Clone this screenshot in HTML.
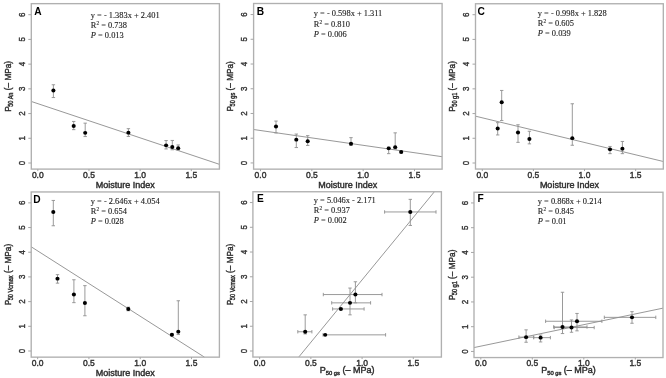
<!DOCTYPE html><html><head><meta charset="utf-8"><style>html,body{margin:0;padding:0;background:#fff;width:666px;height:378px;overflow:hidden}svg{display:block;will-change:transform}.s{font-family:"Liberation Sans",sans-serif}.t{stroke:#333;stroke-width:0.42px}.e{stroke:#222;stroke-width:0.12px}.r{font-family:"Liberation Serif",serif}</style></head><body>
<svg width="666" height="378" viewBox="0 0 666 378">
<rect width="666" height="378" fill="#fff"/>
<g transform="translate(0,0.25)"><line x1="31.3" y1="101.23" x2="219.4" y2="164.07" stroke="#8c8c8c" stroke-width="0.9"/><path d="M53.4 84.5V97.3M51.7 84.5H55.1M51.7 97.3H55.1M73.7 121.2V129.4M72 121.2H75.4M72 129.4H75.4M85.2 122.9V136.3M83.5 122.9H86.9M83.5 136.3H86.9M128.4 128.4V136.2M126.7 128.4H130.1M126.7 136.2H130.1M166.1 140.3V148.7M164.4 140.3H167.8M164.4 148.7H167.8M172.3 140.2V149.5M170.6 140.2H174M170.6 149.5H174M178.2 144.7V149.9M176.5 144.7H179.9M176.5 149.9H179.9" stroke="#8e8e8e" stroke-width="0.9" fill="none"/><ellipse cx="53.4" cy="90.2" rx="2.05" ry="1.95" fill="#000"/><ellipse cx="73.7" cy="125.7" rx="2.05" ry="1.95" fill="#000"/><ellipse cx="85.2" cy="132.6" rx="2.05" ry="1.95" fill="#000"/><ellipse cx="128.4" cy="132.4" rx="2.05" ry="1.95" fill="#000"/><ellipse cx="166.1" cy="145.1" rx="2.05" ry="1.95" fill="#000"/><ellipse cx="172.3" cy="146.8" rx="2.05" ry="1.95" fill="#000"/><ellipse cx="178.2" cy="147.9" rx="2.05" ry="1.95" fill="#000"/><rect x="31.3" y="3.4" width="188.1" height="165.45" fill="none" stroke="#b0b0b0" stroke-width="1.35"/><path d="M28.3 162.75H31.3M28.3 138.03H31.3M28.3 113.32H31.3M28.3 88.6H31.3M28.3 63.88H31.3M28.3 39.17H31.3M28.3 14.45H31.3M37.8 168.85V170.85M88.97 168.85V170.85M140.13 168.85V170.85M191.3 168.85V170.85" stroke="#a6a6a6" stroke-width="1" fill="none"/><text class="s t" font-size="9.9" fill="#333" text-anchor="middle" transform="translate(24.9,162.75) rotate(-90) scale(0.8,1)">0</text><text class="s t" font-size="9.9" fill="#333" text-anchor="middle" transform="translate(24.9,138.03) rotate(-90) scale(0.8,1)">1</text><text class="s t" font-size="9.9" fill="#333" text-anchor="middle" transform="translate(24.9,113.32) rotate(-90) scale(0.8,1)">2</text><text class="s t" font-size="9.9" fill="#333" text-anchor="middle" transform="translate(24.9,88.6) rotate(-90) scale(0.8,1)">3</text><text class="s t" font-size="9.9" fill="#333" text-anchor="middle" transform="translate(24.9,63.88) rotate(-90) scale(0.8,1)">4</text><text class="s t" font-size="9.9" fill="#333" text-anchor="middle" transform="translate(24.9,39.17) rotate(-90) scale(0.8,1)">5</text><text class="s t" font-size="9.9" fill="#333" text-anchor="middle" transform="translate(24.9,14.45) rotate(-90) scale(0.8,1)">6</text><text class="s t" font-size="8.5" fill="#333" text-anchor="middle" x="37.8" y="177.7">0.0</text><text class="s t" font-size="8.5" fill="#333" text-anchor="middle" x="88.97" y="177.7">0.5</text><text class="s t" font-size="8.5" fill="#333" text-anchor="middle" x="140.13" y="177.7">1.0</text><text class="s t" font-size="8.5" fill="#333" text-anchor="middle" x="191.3" y="177.7">1.5</text><text class="s t" font-size="9.0" fill="#222" text-anchor="middle" x="125.35" y="188.2">Moisture Index</text><text class="s t" font-size="9.7" fill="#222" text-anchor="middle" transform="translate(11.1,86.12) rotate(-90) scale(0.85,1)">P<tspan font-size="6.6" dx="-0.6" dy="1.7">50 An</tspan><tspan dy="-1.7"> (– MPa)</tspan></text><text class="s" font-size="10.2" font-weight="bold" fill="#000" x="34.3" y="14.8">A</text><text class="r e" font-size="8.4" fill="#222" x="90.8" y="17.95">y <tspan fill="#444" stroke="none">=</tspan> - 1.383x + 2.401</text><text class="r e" font-size="8.4" fill="#222" x="90.8" y="27.75">R<tspan font-size="5.4" dy="-3">2</tspan><tspan dy="3"> <tspan fill="#444" stroke="none">=</tspan> 0.738</tspan></text><text class="r e" font-size="8.4" fill="#222" x="90.8" y="37.55"><tspan font-style="italic">P</tspan> <tspan fill="#444" stroke="none">=</tspan> 0.013</text></g>
<g transform="translate(222,0.25)"><line x1="31.6" y1="129.28" x2="220.1" y2="156.44" stroke="#8c8c8c" stroke-width="0.9"/><path d="M54 120.8V132.7M52.3 120.8H55.7M52.3 132.7H55.7M74.3 133.8V147.3M72.6 133.8H76M72.6 147.3H76M85.7 135.4V145.2M84 135.4H87.4M84 145.2H87.4M129 137.4V145M127.3 137.4H130.7M127.3 145H130.7M166.7 146.8V153.4M165 146.8H168.4M165 153.4H168.4M173.2 132.6V149M171.5 132.6H174.9M171.5 149H174.9M179.2 151V152.6M177.5 151H180.9M177.5 152.6H180.9" stroke="#8e8e8e" stroke-width="0.9" fill="none"/><ellipse cx="54" cy="126.3" rx="2.05" ry="1.95" fill="#000"/><ellipse cx="74.3" cy="139.4" rx="2.05" ry="1.95" fill="#000"/><ellipse cx="85.7" cy="141" rx="2.05" ry="1.95" fill="#000"/><ellipse cx="129" cy="143.5" rx="2.05" ry="1.95" fill="#000"/><ellipse cx="166.7" cy="148.1" rx="2.05" ry="1.95" fill="#000"/><ellipse cx="173.2" cy="146.9" rx="2.05" ry="1.95" fill="#000"/><ellipse cx="179.2" cy="151.8" rx="2.05" ry="1.95" fill="#000"/><rect x="31.6" y="3.25" width="188.5" height="165.65" fill="none" stroke="#b0b0b0" stroke-width="1.35"/><path d="M28.6 162.7H31.6M28.6 137.97H31.6M28.6 113.23H31.6M28.6 88.5H31.6M28.6 63.77H31.6M28.6 39.03H31.6M28.6 14.3H31.6M38.5 168.9V170.9M89.83 168.9V170.9M141.17 168.9V170.9M192.5 168.9V170.9" stroke="#a6a6a6" stroke-width="1" fill="none"/><text class="s t" font-size="9.9" fill="#333" text-anchor="middle" transform="translate(25.2,162.7) rotate(-90) scale(0.8,1)">0</text><text class="s t" font-size="9.9" fill="#333" text-anchor="middle" transform="translate(25.2,137.97) rotate(-90) scale(0.8,1)">1</text><text class="s t" font-size="9.9" fill="#333" text-anchor="middle" transform="translate(25.2,113.23) rotate(-90) scale(0.8,1)">2</text><text class="s t" font-size="9.9" fill="#333" text-anchor="middle" transform="translate(25.2,88.5) rotate(-90) scale(0.8,1)">3</text><text class="s t" font-size="9.9" fill="#333" text-anchor="middle" transform="translate(25.2,63.77) rotate(-90) scale(0.8,1)">4</text><text class="s t" font-size="9.9" fill="#333" text-anchor="middle" transform="translate(25.2,39.03) rotate(-90) scale(0.8,1)">5</text><text class="s t" font-size="9.9" fill="#333" text-anchor="middle" transform="translate(25.2,14.3) rotate(-90) scale(0.8,1)">6</text><text class="s t" font-size="8.5" fill="#333" text-anchor="middle" x="38.5" y="177.7">0.0</text><text class="s t" font-size="8.5" fill="#333" text-anchor="middle" x="89.83" y="177.7">0.5</text><text class="s t" font-size="8.5" fill="#333" text-anchor="middle" x="141.17" y="177.7">1.0</text><text class="s t" font-size="8.5" fill="#333" text-anchor="middle" x="192.5" y="177.7">1.5</text><text class="s t" font-size="9.0" fill="#222" text-anchor="middle" x="125.85" y="188.2">Moisture Index</text><text class="s t" font-size="9.7" fill="#222" text-anchor="middle" transform="translate(11.1,86.08) rotate(-90) scale(0.85,1)">P<tspan font-size="6.6" dx="-0.6" dy="1.7">50 gs</tspan><tspan dy="-1.7"> (– MPa)</tspan></text><text class="s" font-size="10.2" font-weight="bold" fill="#000" x="34.65" y="14.6">B</text><text class="r e" font-size="8.4" fill="#222" x="91.8" y="15.7">y <tspan fill="#444" stroke="none">=</tspan> - 0.598x + 1.311</text><text class="r e" font-size="8.4" fill="#222" x="91.8" y="26.3">R<tspan font-size="5.4" dy="-3">2</tspan><tspan dy="3"> <tspan fill="#444" stroke="none">=</tspan> 0.810</tspan></text><text class="r e" font-size="8.4" fill="#222" x="91.8" y="36.3"><tspan font-style="italic">P</tspan> <tspan fill="#444" stroke="none">=</tspan> 0.006</text></g>
<g transform="translate(444,0.25)"><line x1="31.5" y1="115.93" x2="219.3" y2="161.24" stroke="#8c8c8c" stroke-width="0.9"/><path d="M53.7 122.4V134.7M52 122.4H55.4M52 134.7H55.4M57.7 90.2V120.3M56 90.2H59.4M56 120.3H59.4M74 124.5V142.1M72.3 124.5H75.7M72.3 142.1H75.7M85.4 131V143.6M83.7 131H87.1M83.7 143.6H87.1M128.3 103.5V145M126.6 103.5H130M126.6 145H130M166 146.2V153.4M164.3 146.2H167.7M164.3 153.4H167.7M178.4 141.2V153.4M176.7 141.2H180.1M176.7 153.4H180.1" stroke="#8e8e8e" stroke-width="0.9" fill="none"/><ellipse cx="53.7" cy="128.3" rx="2.05" ry="1.95" fill="#000"/><ellipse cx="57.7" cy="102" rx="2.05" ry="1.95" fill="#000"/><ellipse cx="74" cy="132.3" rx="2.05" ry="1.95" fill="#000"/><ellipse cx="85.4" cy="138.7" rx="2.05" ry="1.95" fill="#000"/><ellipse cx="128.3" cy="137.9" rx="2.05" ry="1.95" fill="#000"/><ellipse cx="166" cy="149.1" rx="2.05" ry="1.95" fill="#000"/><ellipse cx="178.4" cy="148.4" rx="2.05" ry="1.95" fill="#000"/><rect x="31.5" y="3.5" width="187.8" height="165.3" fill="none" stroke="#b0b0b0" stroke-width="1.35"/><path d="M28.5 162.75H31.5M28.5 138.03H31.5M28.5 113.32H31.5M28.5 88.6H31.5M28.5 63.88H31.5M28.5 39.17H31.5M28.5 14.45H31.5M38.3 168.8V170.8M89.42 168.8V170.8M140.53 168.8V170.8M191.65 168.8V170.8" stroke="#a6a6a6" stroke-width="1" fill="none"/><text class="s t" font-size="9.9" fill="#333" text-anchor="middle" transform="translate(25.1,162.75) rotate(-90) scale(0.8,1)">0</text><text class="s t" font-size="9.9" fill="#333" text-anchor="middle" transform="translate(25.1,138.03) rotate(-90) scale(0.8,1)">1</text><text class="s t" font-size="9.9" fill="#333" text-anchor="middle" transform="translate(25.1,113.32) rotate(-90) scale(0.8,1)">2</text><text class="s t" font-size="9.9" fill="#333" text-anchor="middle" transform="translate(25.1,88.6) rotate(-90) scale(0.8,1)">3</text><text class="s t" font-size="9.9" fill="#333" text-anchor="middle" transform="translate(25.1,63.88) rotate(-90) scale(0.8,1)">4</text><text class="s t" font-size="9.9" fill="#333" text-anchor="middle" transform="translate(25.1,39.17) rotate(-90) scale(0.8,1)">5</text><text class="s t" font-size="9.9" fill="#333" text-anchor="middle" transform="translate(25.1,14.45) rotate(-90) scale(0.8,1)">6</text><text class="s t" font-size="8.5" fill="#333" text-anchor="middle" x="38.3" y="177.7">0.0</text><text class="s t" font-size="8.5" fill="#333" text-anchor="middle" x="89.42" y="177.7">0.5</text><text class="s t" font-size="8.5" fill="#333" text-anchor="middle" x="140.53" y="177.7">1.0</text><text class="s t" font-size="8.5" fill="#333" text-anchor="middle" x="191.65" y="177.7">1.5</text><text class="s t" font-size="9.0" fill="#222" text-anchor="middle" x="125.4" y="188.2">Moisture Index</text><text class="s t" font-size="9.7" fill="#222" text-anchor="middle" transform="translate(11.1,86.15) rotate(-90) scale(0.85,1)">P<tspan font-size="6.6" dx="-0.6" dy="1.7">50 g1</tspan><tspan dy="-1.7"> (– MPa)</tspan></text><text class="s" font-size="10.2" font-weight="bold" fill="#000" x="33.4" y="14.9">C</text><text class="r e" font-size="8.4" fill="#222" x="93.8" y="16.05">y <tspan fill="#444" stroke="none">=</tspan> - 0.998x + 1.828</text><text class="r e" font-size="8.4" fill="#222" x="93.8" y="25.45">R<tspan font-size="5.4" dy="-3">2</tspan><tspan dy="3"> <tspan fill="#444" stroke="none">=</tspan> 0.605</tspan></text><text class="r e" font-size="8.4" fill="#222" x="93.8" y="35.35"><tspan font-style="italic">P</tspan> <tspan fill="#444" stroke="none">=</tspan> 0.039</text></g>
<g transform="translate(0,188.25)"><line x1="31.2" y1="58.54" x2="204.45" y2="168.9" stroke="#8c8c8c" stroke-width="0.9"/><path d="M53.3 12.2V37.5M51.6 12.2H55M51.6 37.5H55M57.5 86.4V94.9M55.8 86.4H59.2M55.8 94.9H59.2M73.9 91.5V114.4M72.2 91.5H75.6M72.2 114.4H75.6M84.9 97.4V127.5M83.2 97.4H86.6M83.2 127.5H86.6M128.3 118.9V122.5M126.6 118.9H130M126.6 122.5H130M171.9 145.5V147.5M170.2 145.5H173.6M170.2 147.5H173.6M178.3 112.5V146.3M176.6 112.5H180M176.6 146.3H180" stroke="#8e8e8e" stroke-width="0.9" fill="none"/><ellipse cx="53.3" cy="23.7" rx="2.05" ry="1.95" fill="#000"/><ellipse cx="57.5" cy="90.4" rx="2.05" ry="1.95" fill="#000"/><ellipse cx="73.9" cy="106.3" rx="2.05" ry="1.95" fill="#000"/><ellipse cx="84.9" cy="114.8" rx="2.05" ry="1.95" fill="#000"/><ellipse cx="128.3" cy="120.8" rx="2.05" ry="1.95" fill="#000"/><ellipse cx="171.9" cy="146.5" rx="2.05" ry="1.95" fill="#000"/><ellipse cx="178.3" cy="143.4" rx="2.05" ry="1.95" fill="#000"/><rect x="31.2" y="3.7" width="188.2" height="165.2" fill="none" stroke="#b0b0b0" stroke-width="1.35"/><path d="M28.2 162.75H31.2M28.2 138.06H31.2M28.2 113.37H31.2M28.2 88.67H31.2M28.2 63.98H31.2M28.2 39.29H31.2M28.2 14.6H31.2M37.65 168.9V170.9M88.93 168.9V170.9M140.22 168.9V170.9M191.5 168.9V170.9" stroke="#a6a6a6" stroke-width="1" fill="none"/><text class="s t" font-size="9.9" fill="#333" text-anchor="middle" transform="translate(24.8,162.75) rotate(-90) scale(0.8,1)">0</text><text class="s t" font-size="9.9" fill="#333" text-anchor="middle" transform="translate(24.8,138.06) rotate(-90) scale(0.8,1)">1</text><text class="s t" font-size="9.9" fill="#333" text-anchor="middle" transform="translate(24.8,113.37) rotate(-90) scale(0.8,1)">2</text><text class="s t" font-size="9.9" fill="#333" text-anchor="middle" transform="translate(24.8,88.67) rotate(-90) scale(0.8,1)">3</text><text class="s t" font-size="9.9" fill="#333" text-anchor="middle" transform="translate(24.8,63.98) rotate(-90) scale(0.8,1)">4</text><text class="s t" font-size="9.9" fill="#333" text-anchor="middle" transform="translate(24.8,39.29) rotate(-90) scale(0.8,1)">5</text><text class="s t" font-size="9.9" fill="#333" text-anchor="middle" transform="translate(24.8,14.6) rotate(-90) scale(0.8,1)">6</text><text class="s t" font-size="8.5" fill="#333" text-anchor="middle" x="37.65" y="177.7">0.0</text><text class="s t" font-size="8.5" fill="#333" text-anchor="middle" x="88.93" y="177.7">0.5</text><text class="s t" font-size="8.5" fill="#333" text-anchor="middle" x="140.22" y="177.7">1.0</text><text class="s t" font-size="8.5" fill="#333" text-anchor="middle" x="191.5" y="177.7">1.5</text><text class="s t" font-size="9.0" fill="#222" text-anchor="middle" x="125.3" y="188.2">Moisture Index</text><text class="s t" font-size="9.7" fill="#222" text-anchor="middle" transform="translate(11.1,86.3) rotate(-90) scale(0.85,1)">P<tspan font-size="6.6" dx="-0.6" dy="1.7">50 Vcmax</tspan><tspan dy="-1.7"> (– MPa)</tspan></text><text class="s" font-size="10.2" font-weight="bold" fill="#000" x="33.25" y="15">D</text><text class="r e" font-size="8.4" fill="#222" x="90.8" y="15.95">y <tspan fill="#444" stroke="none">=</tspan> - 2.646x + 4.054</text><text class="r e" font-size="8.4" fill="#222" x="90.8" y="26.05">R<tspan font-size="5.4" dy="-3">2</tspan><tspan dy="3"> <tspan fill="#444" stroke="none">=</tspan> 0.654</tspan></text><text class="r e" font-size="8.4" fill="#222" x="90.8" y="35.85"><tspan font-style="italic">P</tspan> <tspan fill="#444" stroke="none">=</tspan> 0.028</text></g>
<g transform="translate(222,188.25)"><line x1="76.76" y1="168.8" x2="212.38" y2="3.5" stroke="#8c8c8c" stroke-width="0.9"/><path d="M83.2 126.6V145.7M81.5 126.6H84.9M81.5 145.7H84.9M75.8 143.5H89.9M75.8 141.8V145.2M89.9 141.8V145.2M101 146.6H163.6M101 144.9V148.3M163.6 144.9V148.3M110.6 120.7H142.1M110.6 119V122.4M142.1 119V122.4M128 99.8V126.6M126.3 99.8H129.7M126.3 126.6H129.7M109.7 114.6H148.6M109.7 112.9V116.3M148.6 112.9V116.3M133.4 93.5V114.6M131.7 93.5H135.1M131.7 114.6H135.1M101.3 106.3H160M101.3 104.6V108M160 104.6V108M188.3 11.1V37.2M186.6 11.1H190M186.6 37.2H190M162.6 23.7H214M162.6 22V25.4M214 22V25.4" stroke="#8e8e8e" stroke-width="0.9" fill="none"/><ellipse cx="83.2" cy="143.5" rx="2.05" ry="1.95" fill="#000"/><ellipse cx="103.2" cy="146.6" rx="2.05" ry="1.95" fill="#000"/><ellipse cx="118.9" cy="120.7" rx="2.05" ry="1.95" fill="#000"/><ellipse cx="128" cy="114.6" rx="2.05" ry="1.95" fill="#000"/><ellipse cx="133.4" cy="106.3" rx="2.05" ry="1.95" fill="#000"/><ellipse cx="188.3" cy="23.7" rx="2.05" ry="1.95" fill="#000"/><rect x="30.9" y="3.5" width="188.5" height="165.3" fill="none" stroke="#b0b0b0" stroke-width="1.35"/><path d="M27.9 162.75H30.9M27.9 138.01H30.9M27.9 113.27H30.9M27.9 88.53H30.9M27.9 63.78H30.9M27.9 39.04H30.9M27.9 14.3H30.9M37.65 168.8V170.8M88.87 168.8V170.8M140.08 168.8V170.8M191.3 168.8V170.8" stroke="#a6a6a6" stroke-width="1" fill="none"/><text class="s t" font-size="9.9" fill="#333" text-anchor="middle" transform="translate(24.5,162.75) rotate(-90) scale(0.8,1)">0</text><text class="s t" font-size="9.9" fill="#333" text-anchor="middle" transform="translate(24.5,138.01) rotate(-90) scale(0.8,1)">1</text><text class="s t" font-size="9.9" fill="#333" text-anchor="middle" transform="translate(24.5,113.27) rotate(-90) scale(0.8,1)">2</text><text class="s t" font-size="9.9" fill="#333" text-anchor="middle" transform="translate(24.5,88.53) rotate(-90) scale(0.8,1)">3</text><text class="s t" font-size="9.9" fill="#333" text-anchor="middle" transform="translate(24.5,63.78) rotate(-90) scale(0.8,1)">4</text><text class="s t" font-size="9.9" fill="#333" text-anchor="middle" transform="translate(24.5,39.04) rotate(-90) scale(0.8,1)">5</text><text class="s t" font-size="9.9" fill="#333" text-anchor="middle" transform="translate(24.5,14.3) rotate(-90) scale(0.8,1)">6</text><text class="s t" font-size="8.5" fill="#333" text-anchor="middle" x="37.65" y="177.7">0.0</text><text class="s t" font-size="8.5" fill="#333" text-anchor="middle" x="88.87" y="177.7">0.5</text><text class="s t" font-size="8.5" fill="#333" text-anchor="middle" x="140.08" y="177.7">1.0</text><text class="s t" font-size="8.5" fill="#333" text-anchor="middle" x="191.3" y="177.7">1.5</text><text class="s t" font-size="9.0" fill="#222" text-anchor="middle" x="125.15" y="184.8">P<tspan font-size="5.8" dy="1.9">50 gs</tspan><tspan dy="-1.9"> (– MPa)</tspan></text><text class="s t" font-size="9.7" fill="#222" text-anchor="middle" transform="translate(11.1,86.15) rotate(-90) scale(0.85,1)">P<tspan font-size="6.6" dx="-0.6" dy="1.7">50 Vcmax</tspan><tspan dy="-1.7"> (– MPa)</tspan></text><text class="s" font-size="10.2" font-weight="bold" fill="#000" x="35" y="14.1">E</text><text class="r e" font-size="8.4" fill="#222" x="91.8" y="14.85">y <tspan fill="#444" stroke="none">=</tspan> 5.046x - 2.171</text><text class="r e" font-size="8.4" fill="#222" x="91.8" y="24.85">R<tspan font-size="5.4" dy="-3">2</tspan><tspan dy="3"> <tspan fill="#444" stroke="none">=</tspan> 0.937</tspan></text><text class="r e" font-size="8.4" fill="#222" x="91.8" y="34.55"><tspan font-style="italic">P</tspan> <tspan fill="#444" stroke="none">=</tspan> 0.002</text></g>
<g transform="translate(444,188.25)"><line x1="30" y1="159.32" x2="219" y2="119.9" stroke="#8c8c8c" stroke-width="0.9"/><path d="M82.1 141.6V154M80.4 141.6H83.8M80.4 154H83.8M74.9 148.9H89.7M74.9 147.2V150.6M89.7 147.2V150.6M96.6 146.8V153.7M94.9 146.8H98.3M94.9 153.7H98.3M89.7 149.4H106.4M89.7 147.7V151.1M106.4 147.7V151.1M118.5 104V145.3M116.8 104H120.2M116.8 145.3H120.2M109.6 138.7H143M109.6 137V140.4M143 137V140.4M127.5 131.7V144M125.8 131.7H129.2M125.8 144H129.2M110.3 139.3H150.2M110.3 137.6V141M150.2 137.6V141M133 125.2V142.6M131.3 125.2H134.7M131.3 142.6H134.7M101.6 133H157.9M101.6 131.3V134.7M157.9 131.3V134.7M188 123.4V135M186.3 123.4H189.7M186.3 135H189.7M160.3 129.1H211.8M160.3 127.4V130.8M211.8 127.4V130.8" stroke="#8e8e8e" stroke-width="0.9" fill="none"/><ellipse cx="82.1" cy="148.9" rx="2.05" ry="1.95" fill="#000"/><ellipse cx="96.6" cy="149.4" rx="2.05" ry="1.95" fill="#000"/><ellipse cx="118.5" cy="138.7" rx="2.05" ry="1.95" fill="#000"/><ellipse cx="127.5" cy="139.3" rx="2.05" ry="1.95" fill="#000"/><ellipse cx="133" cy="133" rx="2.05" ry="1.95" fill="#000"/><ellipse cx="188" cy="129.1" rx="2.05" ry="1.95" fill="#000"/><rect x="30" y="4" width="189" height="165.3" fill="none" stroke="#b0b0b0" stroke-width="1.35"/><path d="M27 163.2H30M27 138.45H30M27 113.7H30M27 88.95H30M27 64.2H30M27 39.45H30M27 14.7H30M36.8 169.3V171.3M88.3 169.3V171.3M139.8 169.3V171.3M191.3 169.3V171.3" stroke="#a6a6a6" stroke-width="1" fill="none"/><text class="s t" font-size="9.9" fill="#333" text-anchor="middle" transform="translate(23.6,163.2) rotate(-90) scale(0.8,1)">0</text><text class="s t" font-size="9.9" fill="#333" text-anchor="middle" transform="translate(23.6,138.45) rotate(-90) scale(0.8,1)">1</text><text class="s t" font-size="9.9" fill="#333" text-anchor="middle" transform="translate(23.6,113.7) rotate(-90) scale(0.8,1)">2</text><text class="s t" font-size="9.9" fill="#333" text-anchor="middle" transform="translate(23.6,88.95) rotate(-90) scale(0.8,1)">3</text><text class="s t" font-size="9.9" fill="#333" text-anchor="middle" transform="translate(23.6,64.2) rotate(-90) scale(0.8,1)">4</text><text class="s t" font-size="9.9" fill="#333" text-anchor="middle" transform="translate(23.6,39.45) rotate(-90) scale(0.8,1)">5</text><text class="s t" font-size="9.9" fill="#333" text-anchor="middle" transform="translate(23.6,14.7) rotate(-90) scale(0.8,1)">6</text><text class="s t" font-size="8.5" fill="#333" text-anchor="middle" x="36.8" y="177.7">0.0</text><text class="s t" font-size="8.5" fill="#333" text-anchor="middle" x="88.3" y="177.7">0.5</text><text class="s t" font-size="8.5" fill="#333" text-anchor="middle" x="139.8" y="177.7">1.0</text><text class="s t" font-size="8.5" fill="#333" text-anchor="middle" x="191.3" y="177.7">1.5</text><text class="s t" font-size="9.0" fill="#222" text-anchor="middle" x="124.5" y="184.8">P<tspan font-size="5.8" dy="1.9">50 gs</tspan><tspan dy="-1.9"> (– MPa)</tspan></text><text class="s t" font-size="9.7" fill="#222" text-anchor="middle" transform="translate(11.1,86.65) rotate(-90) scale(0.85,1)">P<tspan font-size="6.6" dx="-0.6" dy="1.7">50 g1</tspan><tspan dy="-1.7"> (– MPa)</tspan></text><text class="s" font-size="10.2" font-weight="bold" fill="#000" x="33.45" y="13.8">F</text><text class="r e" font-size="8.4" fill="#222" x="93.8" y="16.05">y <tspan fill="#444" stroke="none">=</tspan> 0.868x + 0.214</text><text class="r e" font-size="8.4" fill="#222" x="93.8" y="25.95">R<tspan font-size="5.4" dy="-3">2</tspan><tspan dy="3"> <tspan fill="#444" stroke="none">=</tspan> 0.845</tspan></text><text class="r e" font-size="8.4" fill="#222" x="93.8" y="35.85"><tspan font-style="italic">P</tspan> <tspan fill="#444" stroke="none">=</tspan> 0.01</text></g>
</svg></body></html>
